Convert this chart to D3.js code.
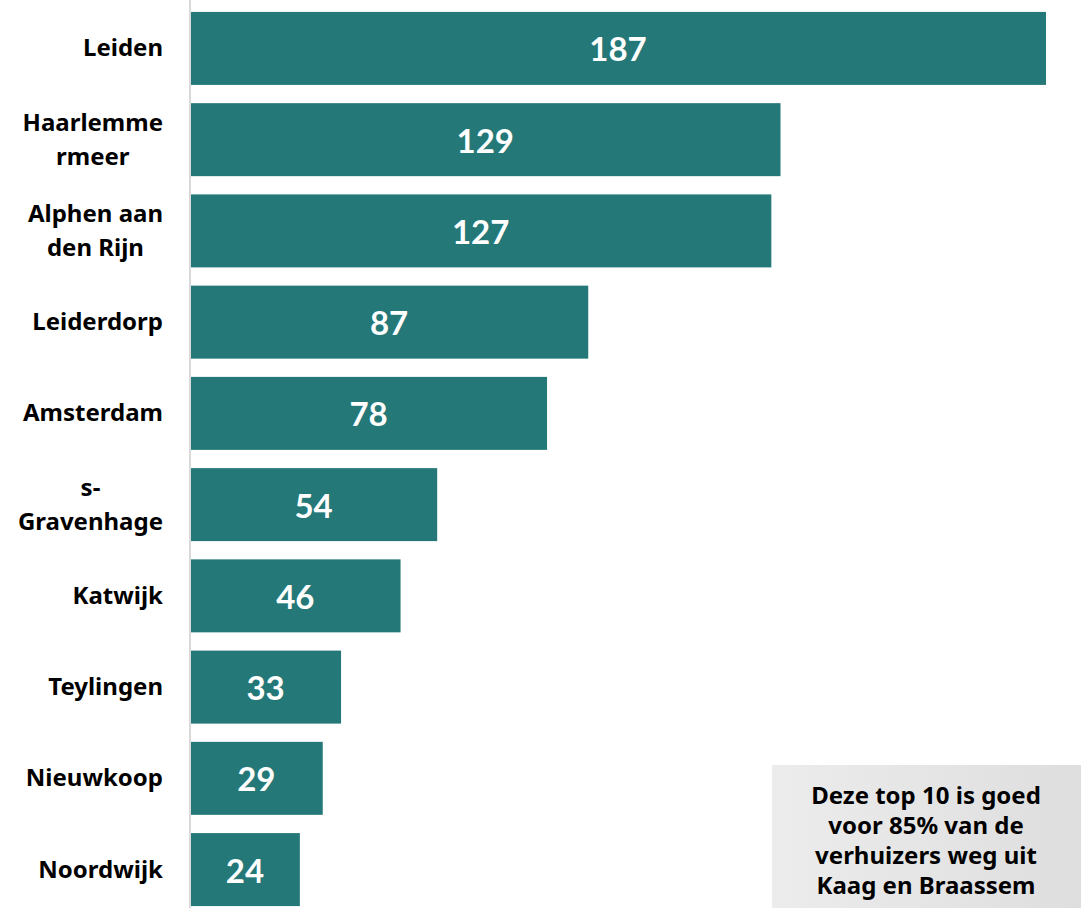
<!DOCTYPE html>
<html><head><meta charset="utf-8">
<script src="https://cdn.jsdelivr.net/npm/d3@7"></script>
<style>body{margin:0;background:#fff;} svg{display:block;}</style>
</head><body>
<svg id="chart" width="1081" height="908"></svg>
<script>
const categories = [["Leiden"],["Haarlemme","rmeer"],["Alphen aan","den Rijn"],["Leiderdorp"],["Amsterdam"],["s-","Gravenhage"],["Katwijk"],["Teylingen"],["Nieuwkoop"],["Noordwijk"]];
const values = [187,129,127,87,78,54,46,33,29,24];
const noteLines = ["Deze top 10 is goed","voor 85% van de","verhuizers weg uit","Kaag en Braassem"];

const svg = d3.select("#chart");
const x = d3.scaleLinear().domain([0,187]).range([190,1046]);
const y = d3.scaleBand().domain(d3.range(categories.length)).range([2.8,915.2]).paddingInner(0.2).paddingOuter(0.1);

const defs = svg.append("defs");
const g = defs.append("linearGradient").attr("id","gr").attr("x1","0").attr("x2","1").attr("y1","0").attr("y2","0");
g.append("stop").attr("offset","0").attr("stop-color","#ececec");
g.append("stop").attr("offset","1").attr("stop-color","#dedede");

svg.selectAll("rect.bar").data(values).join("rect").attr("class","bar")
  .attr("x",x(0)).attr("y",(d,i)=>y(i)).attr("width",d=>x(d)-x(0)).attr("height",y.bandwidth())
  .attr("fill","#247878");

svg.append("line").attr("x1",190).attr("x2",190).attr("y1",0).attr("y2",908).attr("stroke","#d9d9d9").attr("stroke-width",2);

svg.selectAll("text.val").data(values).join("text").attr("class","val")
  .attr("x",d=>(x(0)+x(d))/2).attr("y",(d,i)=>y(i)+y.bandwidth()/2+13)
  .attr("text-anchor","middle").attr("fill","#fff")
  .style("font-family","Lato, sans-serif").style("font-weight","bold").style("font-size","33px")
  .text(d=>d);

const labG = svg.append("g");
categories.forEach((lines,i)=>{
  const cy = y(i)+y.bandwidth()/2;
  const t = labG.append("text").style("font-family","'Noto Sans', sans-serif").style("font-weight","bold").style("font-size","24px").attr("fill","#000");
  const n = lines.length;
  const tspans = lines.map((l,k)=>t.append("tspan").attr("y",cy+8+(k-(n-1)/2)*34).text(l));
  const widths = tspans.map(s=>s.node().getComputedTextLength());
  const maxW = d3.max(widths);
  const cx = 163 - maxW/2;
  tspans.forEach(s=>s.attr("x",cx).attr("text-anchor","middle"));
});

svg.append("rect").attr("x",772).attr("y",765).attr("width",309).attr("height",143).attr("fill","url(#gr)");
svg.append("text").attr("text-anchor","middle").style("font-family","'Noto Sans', sans-serif").style("font-weight","bold").style("font-size","24px")
  .selectAll("tspan").data(noteLines).join("tspan").attr("x",926).attr("y",(d,i)=>804+i*30).text(d=>d);
</script>
</body></html>
